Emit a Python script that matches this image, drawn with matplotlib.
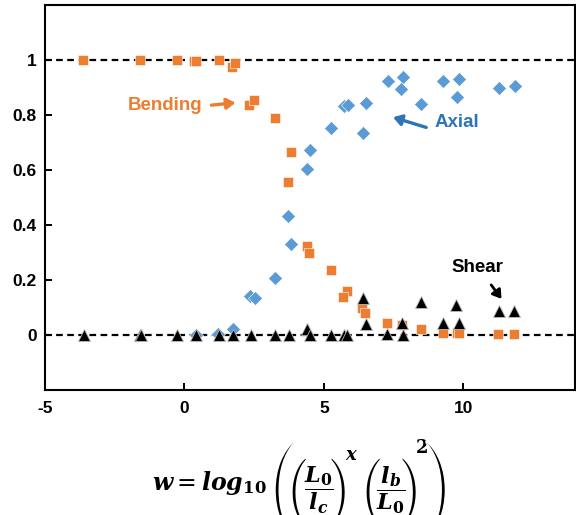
import os
import matplotlib
matplotlib.use("Agg")
import matplotlib.pyplot as plt
import matplotlib.patheffects as pe
from matplotlib.font_manager import FontProperties

# orientation index w and load share of each mode
bend_w = [-3.63, -1.60, -0.28, 0.36, 0.42, 1.25, 1.72, 1.82, 2.33, 2.50, 3.26, 3.83, 3.72,
          4.40, 4.48, 5.26, 5.84, 5.69, 6.38, 6.47, 7.28, 7.79, 8.48, 9.26, 9.78, 9.86,
          11.26, 11.83]
bend_v = [1.0, 1.0, 1.0, 0.995, 0.998, 1.0, 0.975, 0.99, 0.835, 0.854, 0.79, 0.665, 0.556,
          0.322, 0.298, 0.237, 0.16, 0.137, 0.097, 0.079, 0.045, 0.036, 0.02, 0.008, 0.008,
          0.008, 0.003, 0.003]

axial_w = [0.42, 1.22, 1.73, 2.36, 2.52, 3.26, 3.72, 3.83,
           4.40, 4.50, 5.26, 5.72, 5.86, 6.50, 6.41, 7.30, 7.84, 7.76, 8.50,
           9.29, 9.86, 9.76, 11.29, 11.85]
axial_v = [0.0, 0.005, 0.02, 0.14, 0.134, 0.207, 0.432, 0.331,
           0.605, 0.673, 0.752, 0.833, 0.836, 0.845, 0.736, 0.925, 0.94, 0.896, 0.841,
           0.925, 0.93, 0.867, 0.898, 0.904]

shear_w = [-3.60, -1.60, -1.54, -0.25, 0.42, 1.25, 1.76, 2.39, 3.26, 3.74, 4.40, 4.52,
           5.26, 5.72, 5.83, 6.40, 6.50, 7.28, 7.79, 7.84, 8.50, 9.29, 9.74, 9.86,
           11.27, 11.83]
shear_v = [0.0, 0.0, 0.0, 0.0, 0.0, 0.0, 0.0, 0.0, 0.0, 0.0, 0.022, 0.0,
           0.0, 0.0, 0.0, 0.134, 0.04, 0.003, 0.045, 0.0, 0.118, 0.045, 0.11, 0.045,
           0.088, 0.088]

xticks = [-5, 0, 5, 10]
yticks = [0, 0.2, 0.4, 0.6, 0.8, 1]
ytick_labels = ["0", "0.2", "0.4", "0.6", "0.8", "1"]

orange = "#ED7D31"
blue = "#5B9BD5"
blue_txt = "#2E75B6"

plt.rcParams["font.family"] = ["Liberation Sans", "DejaVu Sans"]
plt.rcParams["mathtext.fontset"] = "dejavuserif"
plt.rcParams["axes.unicode_minus"] = False

W, H = 576, 515
fig = plt.figure(figsize=(W / 100, H / 100), dpi=100)
ax = fig.add_axes([0.078, 0.243, 0.92, 0.747])

ax.axhline(1, color="black", lw=1.6, ls=(0, (3, 2)), zorder=1)
ax.axhline(0, color="black", lw=1.6, ls=(0, (3, 2)), zorder=1)

ax.plot(axial_w, axial_v, ls="none", marker="D", ms=7.2, color=blue, mec="white", mew=0.4, zorder=3)
ax.plot(bend_w, bend_v, ls="none", marker="s", ms=7.5, color=orange, mec="white", mew=0.4, zorder=4)
ax.plot(shear_w, shear_v, ls="none", marker="^", ms=8, color="black", mec="#bbbbbb", mew=0.6, zorder=5)

def arrow(tail, tip, color, lw):
    ax.annotate("", xy=tip, xytext=tail,
                arrowprops=dict(arrowstyle="-|>,head_length=0.5,head_width=0.32",
                                color=color, lw=lw, mutation_scale=10,
                                shrinkA=0, shrinkB=0))

arrow((0.97, 0.836), (1.83, 0.845), orange, 2.4)
ax.text(-0.70, 0.836, "Bending", color=orange, fontsize=13.5, fontweight="bold",
        ha="center", va="center")

arrow((8.67, 0.755), (7.48, 0.792), blue_txt, 2.4)
ax.text(9.77, 0.774, "Axial", color=blue_txt, fontsize=13.5, fontweight="bold",
        ha="center", va="center")

arrow((11.0, 0.182), (11.37, 0.131), "black", 2.0)
ax.text(10.52, 0.245, "Shear", color="black", fontsize=13.5, fontweight="bold",
        ha="center", va="center")

ax.set_xlim(-5, 14)
ax.set_ylim(-0.2, 1.2)
ax.set_xticks(xticks)
ax.set_yticks(yticks)
ax.set_yticklabels(ytick_labels)
ax.tick_params(direction="in", length=5, width=1.4, labelsize=12.5, pad=6)
ax.tick_params(axis="x", pad=8)
for lab in ax.get_xticklabels() + ax.get_yticklabels():
    lab.set_fontweight("bold")
for s in ax.spines.values():
    s.set_linewidth(1.5)

# x-axis formula, assembled piece by piece (pixel positions, y from top)
def ftext(px, py, s, ha="center", va="center", **kw):
    fig.text(px / W, 1 - py / H, s, ha=ha, va=va, **kw)

paren_file = os.path.join(matplotlib.get_data_path(), "fonts", "ttf", "STIXSizFourSymReg.ttf")
outer_paren = FontProperties(fname=paren_file, size=23)
inner_paren = FontProperties(fname=paren_file, size=15.5)
# a thin white outline slims the big outer delimiters a little
thin_outer = [pe.Stroke(linewidth=1.0, foreground="white")]

frac_a = r"$\dfrac{\mathbfit{L}_{\mathbf{0}}}{\mathbfit{l}_{\mathbfit{c}}}$"
frac_b = r"$\dfrac{\mathbfit{l}_{\mathbfit{b}}}{\mathbfit{L}_{\mathbf{0}}}$"

ftext(152, 490, r"$\mathbfit{w} = \mathbfit{log}_{\mathbf{10}}$", ha="left", va="baseline", fontsize=17)
ftext(284, 490, "(", fontproperties=outer_paren, path_effects=thin_outer)
ftext(298.5, 492, "(", fontproperties=inner_paren)
ftext(319, 490, frac_a, fontsize=16)
ftext(338.5, 492, ")", fontproperties=inner_paren)
ftext(352, 455, r"$\mathbfit{x}$", fontsize=13)
ftext(372.5, 492, "(", fontproperties=inner_paren)
ftext(391, 490, frac_b, fontsize=16)
ftext(409, 492, ")", fontproperties=inner_paren)
ftext(421.5, 448, r"$\mathbf{2}$", fontsize=13)
ftext(436.5, 490, ")", fontproperties=outer_paren, path_effects=thin_outer)

fig.savefig("out.png", dpi=100)
